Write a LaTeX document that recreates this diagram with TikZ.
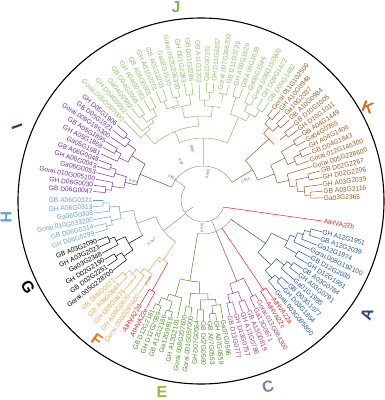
\documentclass[tikz,border=0pt]{standalone}
\usepackage{fontspec}
\setmainfont{Liberation Sans}
\usepackage{xcolor}
\definecolor{cI}{RGB}{112,48,160}
\definecolor{cJ}{RGB}{140,192,100}
\definecolor{cK}{RGB}{155,92,35}
\definecolor{cA}{RGB}{35,85,150}
\definecolor{cC}{RGB}{165,65,120}
\definecolor{cE}{RGB}{75,145,40}
\definecolor{cF}{RGB}{240,165,85}
\definecolor{cH}{RGB}{105,160,215}
\definecolor{cR}{RGB}{235,30,30}
\definecolor{cgray}{RGB}{150,150,150}
\definecolor{lJ}{RGB}{125,185,75}
\definecolor{lK}{RGB}{205,110,30}
\definecolor{lA}{RGB}{45,70,120}
\definecolor{lC}{RGB}{125,125,180}
\definecolor{lE}{RGB}{160,180,60}
\definecolor{lF}{RGB}{235,120,25}
\definecolor{lI}{RGB}{80,45,120}
\usepackage{tikz}

\tikzset{
  lbl/.style={font=\fontsize{6.7}{6.7}\selectfont,inner sep=0.6bp},
  br/.style={line width=0.5bp},
  sv/.style={font=\fontsize{3.6}{3.6}\selectfont,text=black!65,inner sep=0bp},
  clade/.style={font=\fontsize{16}{16}\selectfont\bfseries,inner sep=0bp},
}

% internal node: colour, radius, first angle, last angle, parent radius
\newcommand{\nd}[5]{%
  \pgfmathsetmacro{\ndm}{(#3+#4)/2}%
  \draw[br,#1] (#3:#2) arc[start angle=#3,end angle=#4,radius=#2bp];
  \draw[br,#1] (\ndm:#5) -- (\ndm:#2);}

% leaf: name, colour, angle, base radius, tip radius, label
\newcommand{\lf}[6]{%
  \coordinate (#1b) at (#3:#4);
  \coordinate (#1t) at (#3:#5);
  \ifdim#3pt>90pt\relax\ifdim#3pt<270pt\relax
      \node[lbl,text=#2,rotate=#3-180,anchor=east] (#1) at (#1t) {#6};
      \draw[br,#2] (#1b) -- (#1.east);
    \else
      \node[lbl,text=#2,rotate=#3,anchor=west] (#1) at (#1t) {#6};
      \draw[br,#2] (#1b) -- (#1.west);
    \fi
  \else
    \node[lbl,text=#2,rotate=#3,anchor=west] (#1) at (#1t) {#6};
    \draw[br,#2] (#1b) -- (#1.west);
  \fi}

\begin{document}
\begin{tikzpicture}[x=1bp,y=1bp]
  \useasboundingbox (0,0) rectangle (385,400);
  \draw[line width=1.1bp] (201,199) circle[radius=183bp];

  \begin{scope}[shift={(203,200)}]
  % backbone
  \draw[br,cgray] (215:12) -- (215:22);
  \draw[br,cgray] (144:22) arc[start angle=144,end angle=341,radius=22bp];
  \draw[br,cgray] (144:22) -- (144:34);
  \draw[br,cgray] (31.4:34) arc[start angle=31.4,end angle=157.74,radius=34bp];
  \nd{cgray}{34}{260.8}{325.25}{22}
  \nd{cgray}{50}{199.4}{236.55}{22}
  \nd{cgray}{70}{188.5}{210.35}{50}

  % I
  \foreach \ra/\pa/\qa/\sa in {100/139/142.3/94, 94/140.65/145.7/84, 100/149/152.3/94, 94/150.65/155.7/84, 84/143.175/153.175/68, 98/159/162.3/92, 92/160.65/165.6/80, 98/172.3/175.6/92, 92/169/173.95/80, 80/163.125/171.475/68, 68/148.175/167.3/34}
    {\nd{cI}{\ra}{\pa}{\qa}{\sa}}
  \foreach \nm/\ang/\rbase/\rtip/\lab in {i0/139.0/100/114/GH D05G1906, i1/142.3/100/114/GB D05G1921, i2/145.7/94/112/Gorai.009G195300, i3/149.0/100/113/GB A05G1895, i4/152.3/100/113/GH A05G1868, i5/155.7/94/112/Ga05G1981, i6/159.0/98/111/GB A06G0048, i7/162.3/98/111/GH A06G0043, i8/165.6/92/110/Ga06G0053, i9/169.0/92/109/Gorai.010G005100, i10/172.3/98/110/GH D06G0030, i11/175.6/98/110/GB D06G0047}
    {\lf{\nm}{cI}{\ang}{\rbase}{\rtip}{\lab}}

  % H
  \foreach \ra/\pa/\qa/\sa in {100/180/183.4/94, 94/181.7/186.8/84, 100/193.6/197/94, 94/190.2/195.3/84, 84/184.25/192.75/70}
    {\nd{cH}{\ra}{\pa}{\qa}{\sa}}
  \foreach \nm/\ang/\rbase/\rtip/\lab in {h0/180.0/100/110/GB A06G0321, h1/183.4/100/110/GH A06G0313, h2/186.8/94/110/Ga06G0308, h3/190.2/94/111/Gorai.010G033200, h4/193.6/100/112/GB D06G0314, h5/197.0/100/113/GH D06G0299}
    {\lf{\nm}{cH}{\ang}{\rbase}{\rtip}{\lab}}

  % G
  \foreach \ra/\pa/\qa/\sa in {102/201/204.4/96, 96/202.7/207.8/86, 104/211.2/214.6/97, 97/212.9/218/86, 86/205.25/215.45/70}
    {\nd{black}{\ra}{\pa}{\qa}{\sa}}
  \foreach \nm/\ang/\rbase/\rtip/\lab in {g0/201.0/102/113/GB A03G2090, g1/204.4/102/113/GH A03G2023, g2/207.8/96/114/Ga03G2348, g3/211.2/104/115/GH D02G2190, g4/214.6/104/116/GB D02G2251, g5/218.0/97/114/Gorai.005G228700}
    {\lf{\nm}{black}{\ang}{\rbase}{\rtip}{\lab}}

  % F and AtHVA22d/e
  \foreach \ra/\pa/\qa/\sa in {108/222/225.4/102, 102/223.7/228.8/96, 96/226.25/232.2/90, 90/229.225/235.6/72}
    {\nd{cF}{\ra}{\pa}{\qa}{\sa}}
  \foreach \nm/\ang/\rbase/\rtip/\lab in {f0/222.0/108/118/GB D09G0672, f1/225.4/108/118/GB A09G0664, f2/228.8/102/119/GH D09G0676, f3/232.2/96/120/GH A09G0670, f4/235.6/90/114/Gorai.006G067600}
    {\lf{\nm}{cF}{\ang}{\rbase}{\rtip}{\lab}}
  \nd{cR}{104}{239}{242.4}{72}
  \lf{rd}{cR}{239.0}{104}{122}{AtHVA22d}
  \lf{re}{cR}{242.4}{104}{122}{AtHVA22e}
  \nd{cF}{72}{232.4}{240.7}{50}

  % E
  \foreach \ra/\pa/\qa/\sa in {114/245.4/248.5/106, 116/251.6/254.7/106, 106/246.95/253.15/100, 100/250.05/257.8/82, 108/260.9/264/94, 110/267.1/270.2/100, 114/273.3/276.4/106, 106/274.85/279.5/100, 100/268.65/277.175/94, 94/262.45/272.9/82, 82/253.925/267.675/34}
    {\nd{cE}{\ra}{\pa}{\qa}{\sa}}
  \foreach \nm/\ang/\rbase/\rtip/\lab in {e0/245.4/114/120/GB D12G2181, e1/248.5/114/120/GH D12G2089, e2/251.6/116/121/GB A12G2186, e3/254.7/116/121/Ga12G0916, e4/257.8/100/121/GH A12G2101, e5/260.9/108/116/Gorai.008G207600, e6/264.0/108/116/Gorai.001G057000, e7/267.1/110/120/GH D07G0564, e8/270.2/110/121/GB D07G0560, e9/273.3/114/121/GB A07G0553, e10/276.4/114/121/GH A07G0559, e11/279.5/106/121/Ga07G0586}
    {\lf{\nm}{cE}{\ang}{\rbase}{\rtip}{\lab}}

  % C and AtHVA22c/a
  \foreach \ra/\pa/\qa/\sa in {106/283/286.2/98, 108/289.4/292.6/98, 98/284.6/291/88, 108/295.8/299/88, 88/287.8/297.4/34}
    {\nd{cC}{\ra}{\pa}{\qa}{\sa}}
  \foreach \nm/\ang/\rbase/\rtip/\lab in {c0/283.0/106/118/GB D13G0777, c1/286.2/106/118/GH D13G0757, c2/289.4/108/119/GH A13G0786, c3/292.6/108/119/GB A13G0819, c4/295.8/108/120/Ga13G0871, c5/299.0/108/114/Gorai.013G084300}
    {\lf{\nm}{cC}{\ang}{\rbase}{\rtip}{\lab}}
  \nd{cR}{108}{302.3}{305.5}{34}
  \lf{rc}{cR}{302.3}{108}{120}{AtHVA22c}
  \lf{ra}{cR}{305.5}{108}{120}{AtHVA22a}

  % A
  \foreach \ra/\pa/\qa/\sa in {110/312.3/315.5/104, 104/309/313.9/94, 110/322.1/325.4/104, 104/318.8/323.75/94, 94/311.45/321.275/76, 112/341.7/345/106, 106/338.4/343.35/100, 100/335.2/340.875/94, 108/328.6/331.9/94, 94/330.25/338.04/76, 76/316.36/334.14/34}
    {\nd{cA}{\ra}{\pa}{\qa}{\sa}}
  \foreach \nm/\ang/\rbase/\rtip/\lab in {a0/309.0/104/116/Gorai.003G095800, a1/312.3/110/120/GH D03G1854, a2/315.5/110/120/GB D03G1077, a3/318.8/104/121/Ga01G1985, a4/322.1/110/121/GH A03G0791, a5/325.4/110/121/GB A03G0784, a6/328.6/108/122/GH D12G1951, a7/331.9/108/122/GB D12G2030, a8/335.2/100/118/Gorai.008G192100, a9/338.4/106/123/Ga12G1974, a10/341.7/112/123/GB A12G2039, a11/345.0/112/123/GH A12G1951}
    {\lf{\nm}{cA}{\ang}{\rbase}{\rtip}{\lab}}

  % AtHVA22b
  \coordinate (rbb) at (341:22);
  \node[lbl,text=cR,rotate=350,anchor=west] (rb) at (350:122) {AtHVA22b};
  \draw[br,cR] (rbb) -- (rb.west);

  % K
  \foreach \ra/\pa/\qa/\sa in {108/1/4.2/102, 102/2.6/7.4/95, 108/10.7/13.9/95, 95/5/12.3/88, 88/8.65/17.1/76, 108/23.5/26.8/100, 100/20.3/25.15/92, 108/30/33.2/92, 92/22.725/31.6/76, 76/12.875/27.1625/58, 106/36.4/39.6/98, 106/42.9/46.1/98, 106/49.3/52.5/98, 98/44.5/50.9/90, 90/38/47.7/58, 58/20.02/42.85/34}
    {\nd{cK}{\ra}{\pa}{\qa}{\sa}}
  \foreach \nm/\ang/\rbase/\rtip/\lab in {k0/1.0/108/120/Ga03G2365, k1/4.2/108/120/GB A03G2116, k2/7.4/102/120/GH A03G2039, k3/10.7/108/121/GH D02G2206, k4/13.9/108/121/GB D02G2267, k5/17.1/88/114/Gorai.005G228600, k6/20.3/100/113/Gorai.012G146300, k7/23.5/108/118/GB D04G1843, k8/26.8/108/118/GH A04G1406, k9/30.0/108/118/Ga04G0355, k10/33.2/108/118/GB A04G1449, k11/36.4/106/118/GH D10G1011, k12/39.6/106/118/GB D10G1005, k13/42.9/106/118/GB A10G0984, k14/46.1/106/118/Ga10G2037, k15/49.3/106/118/GH A10G0948, k16/52.5/106/114/Gorai.011G102500}
    {\lf{\nm}{cK}{\ang}{\rbase}{\rtip}{\lab}}

  % J
  \foreach \ra/\pa/\qa/\sa in {106/56/59.6/98, 106/63.2/66.8/98, 98/57.8/65/90, 108/70.4/74/90, 90/61.4/72.2/62, 108/77.5/81.1/100, 108/84.7/88.3/100, 100/86.5/91.9/94, 94/79.3/89.2/84, 106/95.5/99.1/96, 106/102.7/106.3/98, 106/109.9/113.4/98, 98/104.5/111.65/96, 96/97.3/108.075/84, 84/84.25/102.69/74, 104/117/120.6/96, 104/124.2/127.8/96, 96/118.8/126/92, 92/122.4/131.4/88, 88/126.9/135/74, 74/93.47/130.95/62, 62/66.8/112.21/34}
    {\nd{cJ}{\ra}{\pa}{\qa}{\sa}}
  \foreach \nm/\ang/\rbase/\rtip/\lab in {j0/56.0/106/118/GB D09G1482, j1/59.6/106/118/GH D09G1472, j2/63.2/106/112/Gorai.006G150800, j3/66.8/106/118/Ga09G1546, j4/70.4/108/118/GB A09G1638, j5/74.0/108/118/GH A09G1520, j6/77.5/108/118/GB D11G3726, j7/81.1/108/110/Gorai.007G366700, j8/84.7/108/118/GH D11G3857, j9/88.3/108/118/Ga11G0151, j10/91.9/100/116/GB A11G3702, j11/95.5/106/118/GB D01G2286, j12/99.1/106/118/GH D01G2283, j13/102.7/106/112/Gorai.002G236300, j14/106.3/106/118/Ga02G1530, j15/109.9/106/118/GB A01G2203, j16/113.4/106/118/GH A01G2201, j17/117.0/104/116/GB A04G0801, j18/120.6/104/116/GH A04G0783, j19/124.2/104/116/GB D04G1005, j20/127.8/104/116/Ga04G0982, j21/131.4/92/116/GH D04G0952, j22/135.0/88/112/Gorai.005G097000}
    {\lf{\nm}{cJ}{\ang}{\rbase}{\rtip}{\lab}}

  % support values
  \node[sv,rotate=80] (s1) at (80:27) {0.843};
  \node[sv,rotate=88] (s2) at (268:28) {0.570};
  \node[sv,rotate=-15] (s3) at (165:72) {0.974};
  \node[sv,rotate=25] (s4) at (25:47) {0.912};
  \node[sv,rotate=56] (s5) at (236:98) {0.734};
  \node[sv,rotate=39] (s6) at (219:66) {0.767};
  \node[sv,rotate=-60] (s7) at (120:44) {0.82};
  \node[sv,rotate=-78] (s8) at (102:52) {0.867};
  \node[sv,rotate=-36] (s9) at (144:38) {0.862};
  \node[sv,rotate=55] (s10) at (235:76) {1};
  \end{scope}

  % clade letters
  \node[clade,text=lJ] (capJ) at (176,393) {J};
  \node[clade,text=lK,rotate=-20] (capK) at (368,293) {K};
  \node[clade,text=lA,rotate=70] (capA) at (367,86) {A};
  \node[clade,text=lC,rotate=15] (capC) at (268,13) {C};
  \node[clade,text=lE] (capE) at (162,8) {E};
  \node[clade,text=lF,rotate=-35] (capF) at (97,60) {F};
  \node[clade,text=black,rotate=-60] (capG) at (28,113) {G};
  \node[clade,text=cH,rotate=-90] (capH) at (6,183) {H};
  \node[clade,text=lI,rotate=-70] (capI) at (17,273) {I};
\end{tikzpicture}
\end{document}
